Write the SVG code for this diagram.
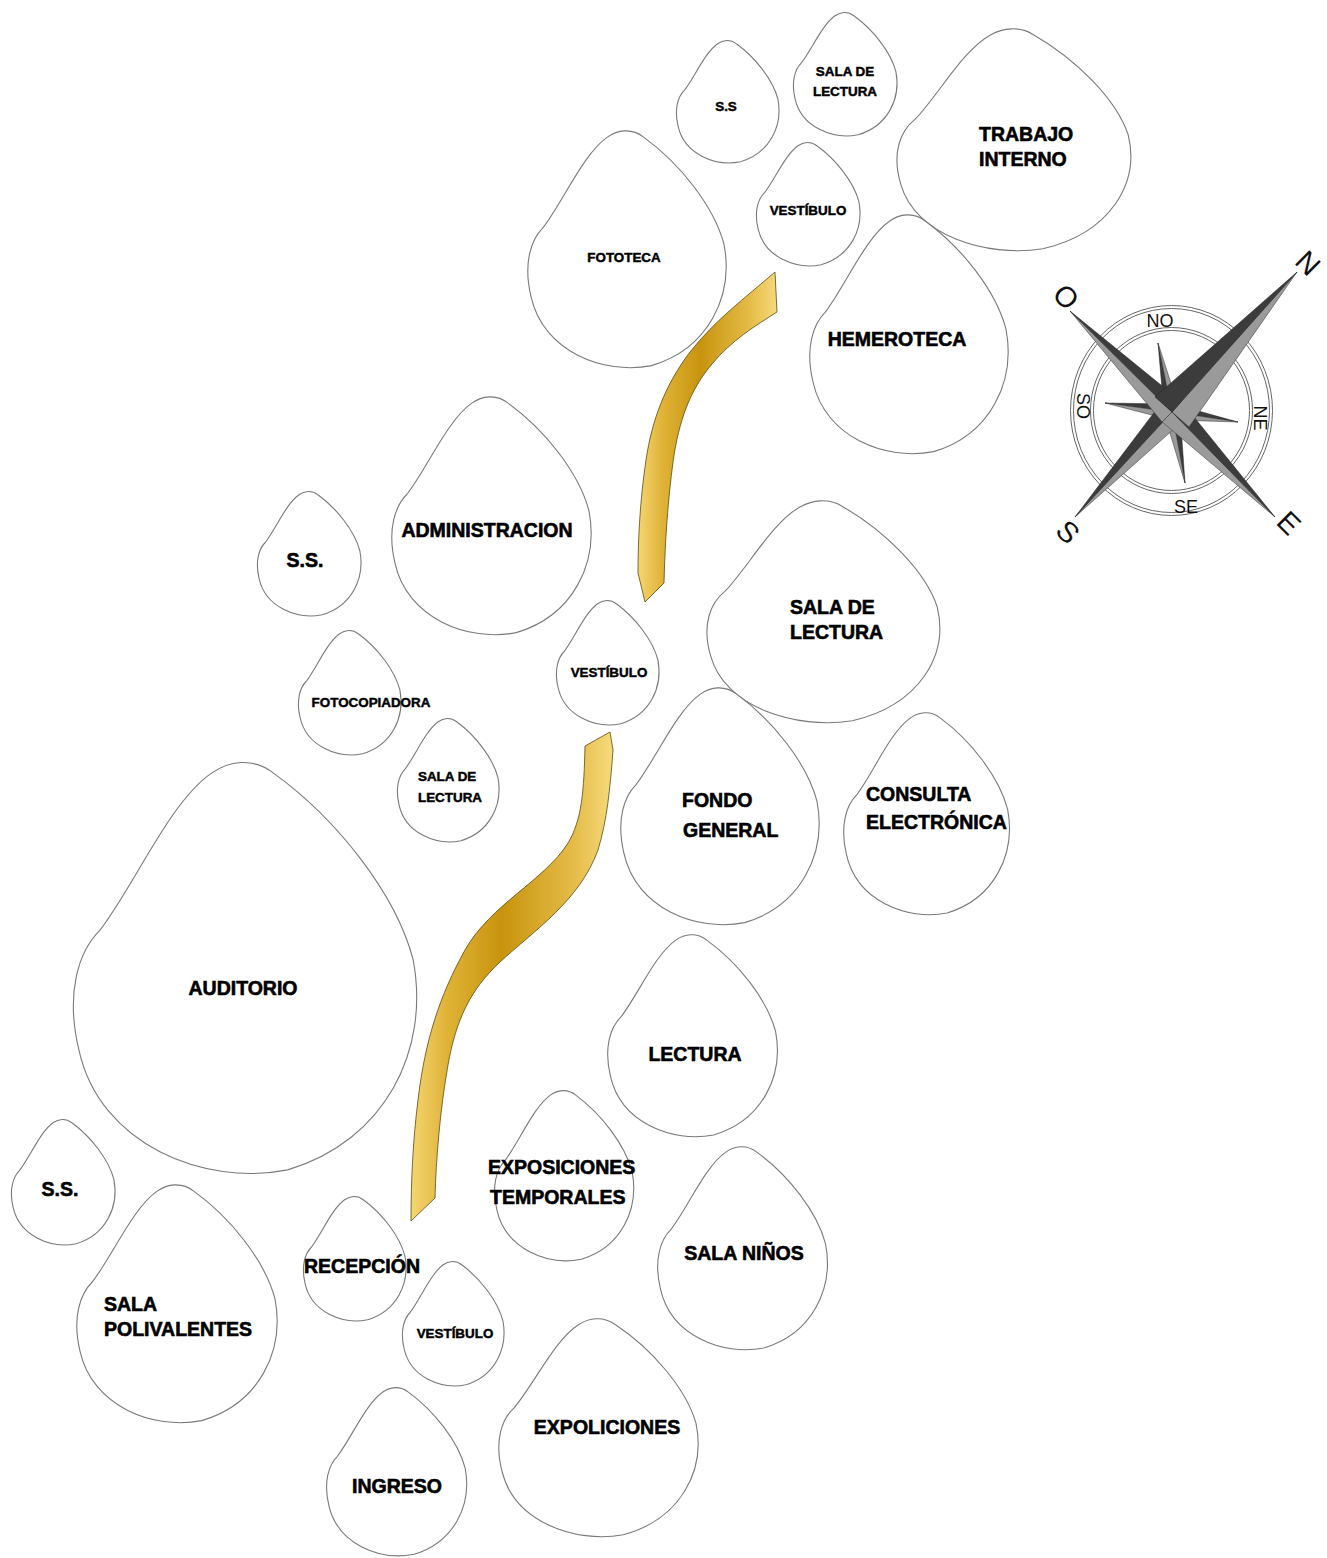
<svg xmlns="http://www.w3.org/2000/svg" xmlns:xlink="http://www.w3.org/1999/xlink" width="1327" height="1558" viewBox="0 0 1327 1558">
<style>
.t{font-family:"Liberation Sans",Arial,sans-serif;font-weight:bold;fill:#000;stroke:#000}
.L{font-size:19.5px;stroke-width:0.6px}
.s{font-size:13.4px;stroke-width:0.45px}
.m{text-anchor:middle}
.c{font-family:"Liberation Sans",Arial,sans-serif;fill:#111}
.dk{fill:#3c3c3c;stroke:#222;stroke-width:0.5}
.lt{fill:#9a9a9a;stroke:#333;stroke-width:0.5}
.ring{fill:none;stroke:#666;stroke-width:1}
.path{stroke:#5a4a10;stroke-width:0.8}
</style>
<defs>
<path id="blob" d="M 0.40 0.03 C 0.45 0.0 0.52 -0.01 0.58 0.03 C 0.76 0.14 0.93 0.32 0.98 0.48 C 1.03 0.70 0.90 0.92 0.62 0.99 C 0.38 1.03 0.08 0.93 0.02 0.70 C -0.02 0.56 0.02 0.46 0.08 0.41 C 0.18 0.30 0.28 0.10 0.40 0.03 Z" fill="#fff" stroke="#7a7a7a" stroke-width="1.1" vector-effect="non-scaling-stroke"/>
<linearGradient id="gold" x1="0" y1="0" x2="1" y2="0">
<stop offset="0" stop-color="#f4d672"/>
<stop offset="0.18" stop-color="#dfb236"/>
<stop offset="0.45" stop-color="#c8940e"/>
<stop offset="0.8" stop-color="#e4bb46"/>
<stop offset="1" stop-color="#f6da7c"/>
</linearGradient>
</defs>
<rect width="1327" height="1558" fill="#fff"/>

<g id="connectors">
<path class="path" fill="url(#gold)" d="M 775,272 C 745,298 715,320 690,352 C 665,385 652,420 646,460 C 640,500 638,540 638,573 L 645,602 L 664,583 C 665,540 668,500 673,462 C 679,420 690,390 712,364 C 732,340 755,326 777,312 Z"/>
<path class="path" fill="url(#gold)" d="M 610,732 L 585,746 C 584,790 582,820 568,843 C 545,880 490,905 465,950 C 440,995 425,1040 418,1100 C 413,1140 411,1180 411,1221 L 435,1198 C 436,1160 440,1110 448,1065 C 456,1020 470,990 500,962 C 535,930 580,900 598,850 C 607,820 610,790 613,750 Z"/>
</g>

<g id="n-ss-top"><use href="#blob" transform="translate(676,40) scale(104,123)"/><text class="t s m" x="726" y="111">S.S</text></g>
<g id="n-sala-lectura-top"><use href="#blob" transform="translate(793,12) scale(105,124)"/><text class="t s m" x="845" y="76">SALA DE</text><text class="t s m" x="845" y="96">LECTURA</text></g>
<g id="n-trabajo-interno"><use href="#blob" transform="translate(896,28) scale(237,223)"/><text class="t L" x="979" y="141">TRABAJO</text><text class="t L" x="979" y="166">INTERNO</text></g>
<g id="n-vestibulo-top"><use href="#blob" transform="translate(756,142) scale(105,124)"/><text class="t s m" x="808" y="215">VESTÍBULO</text></g>
<g id="n-fototeca"><use href="#blob" transform="translate(527,130) scale(201,238)"/><text class="t s m" x="624" y="262">FOTOTECA</text></g>
<g id="n-hemeroteca"><use href="#blob" transform="translate(809,214) scale(201,240)"/><text class="t L m" x="897" y="346">HEMEROTECA</text></g>
<g id="n-administracion"><use href="#blob" transform="translate(391,396) scale(202,239)"/><text class="t L m" x="487" y="537">ADMINISTRACION</text></g>
<g id="n-ss-mid"><use href="#blob" transform="translate(257,491) scale(105,125)"/><text class="t L m" x="305" y="567">S.S.</text></g>
<g id="n-sala-lectura-mid"><use href="#blob" transform="translate(706,500) scale(236,223)"/><text class="t L" x="790" y="614">SALA DE</text><text class="t L" x="790" y="639">LECTURA</text></g>
<g id="n-vestibulo-mid"><use href="#blob" transform="translate(556,600) scale(104,125)"/><text class="t s m" x="609" y="677">VESTÍBULO</text></g>
<g id="n-fotocopiadora"><use href="#blob" transform="translate(298,630) scale(104,125)"/><text class="t s m" x="371" y="707">FOTOCOPIADORA</text></g>
<g id="n-sala-lectura-small"><use href="#blob" transform="translate(397,718) scale(103,124)"/><text class="t s" x="418" y="781">SALA DE</text><text class="t s" x="418" y="802">LECTURA</text></g>
<g id="n-fondo-general"><use href="#blob" transform="translate(620,687) scale(201,238)"/><text class="t L" x="682" y="807">FONDO</text><text class="t L" x="683" y="837">GENERAL</text></g>
<g id="n-consulta"><use href="#blob" transform="translate(843,712) scale(168,203)"/><text class="t L" x="866" y="801">CONSULTA</text><text class="t L" x="866" y="829">ELECTRÓNICA</text></g>
<g id="n-auditorio"><use href="#blob" transform="translate(72,761) scale(348,413)"/><text class="t L m" x="243" y="995">AUDITORIO</text></g>
<g id="n-lectura"><use href="#blob" transform="translate(607,934) scale(172,203)"/><text class="t L m" x="695" y="1061">LECTURA</text></g>
<g id="n-exposiciones-temporales"><use href="#blob" transform="translate(494,1090) scale(141,171)"/><text class="t L" x="488" y="1174">EXPOSICIONES</text><text class="t L" x="490" y="1204">TEMPORALES</text></g>
<g id="n-ss-bottom"><use href="#blob" transform="translate(11,1119) scale(105,126)"/><text class="t L m" x="60" y="1196">S.S.</text></g>
<g id="n-sala-ninos"><use href="#blob" transform="translate(657,1146) scale(172,204)"/><text class="t L m" x="744" y="1260">SALA NIÑOS</text></g>
<g id="n-sala-polivalentes"><use href="#blob" transform="translate(76,1184) scale(203,239)"/><text class="t L" x="104" y="1311">SALA</text><text class="t L" x="104" y="1336">POLIVALENTES</text></g>
<g id="n-recepcion"><use href="#blob" transform="translate(303,1196) scale(104,125)"/><text class="t L m" x="362" y="1273">RECEPCIÓN</text></g>
<g id="n-vestibulo-bottom"><use href="#blob" transform="translate(402,1261) scale(103,125)"/><text class="t s m" x="455" y="1338">VESTÍBULO</text></g>
<g id="n-expoliciones"><use href="#blob" transform="translate(498,1318) scale(202,219)"/><text class="t L m" x="607" y="1434">EXPOLICIONES</text></g>
<g id="n-ingreso"><use href="#blob" transform="translate(326,1387) scale(142,169)"/><text class="t L m" x="397" y="1493">INGRESO</text></g>

<g id="compass">
<ellipse class="ring" cx="1171.5" cy="410.5" rx="101" ry="105"/>
<ellipse class="ring" cx="1171.5" cy="410.5" rx="98" ry="102"/>
<ellipse class="ring" cx="1171.5" cy="410.5" rx="81" ry="83"/>
<ellipse class="ring" cx="1171.5" cy="410.5" rx="78" ry="80"/>
<text class="c m" font-size="18" x="1160" y="327">NO</text>
<text class="c m" font-size="18" x="1186" y="513">SE</text>
<text class="c m" font-size="18" transform="translate(1254,418) rotate(90)">NE</text>
<text class="c m" font-size="18" transform="translate(1077,406) rotate(90)">SO</text>
<polygon class="dk" points="1158,343 1172,412 1164.2,413.5"/>
<polygon class="lt" points="1158,343 1172,412 1179.8,410.5"/>
<polygon class="dk" points="1238,422 1172,412 1173.2,404.1"/>
<polygon class="lt" points="1238,422 1172,412 1170.8,419.9"/>
<polygon class="dk" points="1185,483 1172,412 1179.9,410.5"/>
<polygon class="lt" points="1185,483 1172,412 1164.1,413.5"/>
<polygon class="dk" points="1105,403 1172,412 1173,404.1"/>
<polygon class="lt" points="1105,403 1172,412 1171,419.9"/>
<polygon class="lt" points="1075,517 1172,412 1182.3,421.5"/>
<polygon class="dk" points="1075,517 1172,412 1161.7,402.5"/>
<polygon class="lt" points="1275,517 1172,412 1162,421.8"/>
<polygon class="dk" points="1275,517 1172,412 1182,402.2"/>
<polygon class="lt" points="1070,311 1172,412 1162.1,422"/>
<polygon class="dk" points="1070,311 1172,412 1181.9,402"/>
<polygon class="lt" points="1297,272 1172,412 1189,427"/>
<polygon class="dk" points="1297,272 1172,412 1155,397"/>
<text class="c m" font-size="29" transform="translate(1308,263) rotate(45)" dy="10">N</text>
<text class="c m" font-size="29" transform="translate(1066,297) rotate(45)" dy="10">O</text>
<text class="c m" font-size="29" transform="translate(1068,532) rotate(45)" dy="10">S</text>
<text class="c m" font-size="29" transform="translate(1289,523) rotate(45)" dy="10">E</text>
</g>
</svg>
